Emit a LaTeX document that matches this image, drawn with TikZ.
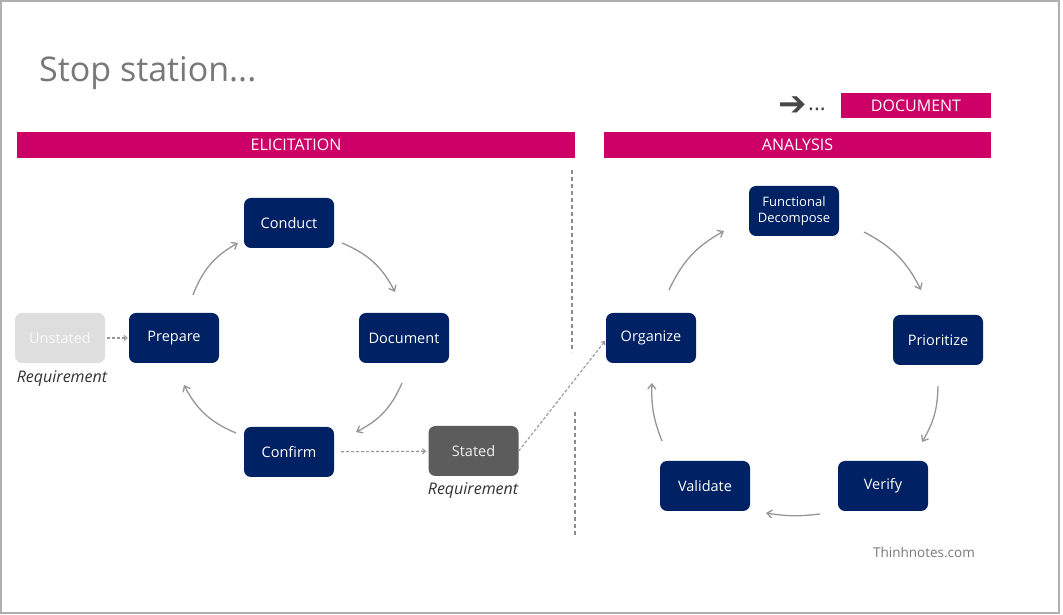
\documentclass[tikz,border=0pt]{standalone}
\usepackage{fontspec}
\setmainfont{Open Sans}
\newfontfamily\dejavu{DejaVu Sans}
\usetikzlibrary{arrows.meta}
\definecolor{navy}{RGB}{0,33,99}
\definecolor{mag}{RGB}{204,0,102}
\definecolor{framegray}{RGB}{175,175,175}
\definecolor{arrowgray}{RGB}{150,150,150}
\definecolor{titlegray}{RGB}{120,120,120}
\definecolor{unstatedgray}{RGB}{222,222,222}
\definecolor{statedgray}{RGB}{92,92,92}
\begin{document}
\begin{tikzpicture}[x=1pt,y=1pt,
  stepbox/.style={rounded corners=7pt, minimum width=90pt, minimum height=50pt, inner sep=0pt,
    fill=navy, text=white, font=\fontsize{14.5}{16}\selectfont},
  bar/.style={fill=mag, text=white, inner sep=0pt, minimum height=26pt, font=\fontsize{16}{18}\selectfont},
  req/.style={text=black!80, font=\fontsize{16}{18}\selectfont\itshape, inner sep=0pt},
  cyc/.style={draw=arrowgray, line width=1.3pt, -{Straight Barb[length=5pt,width=8pt,line width=1.3pt]}},
  dasharrow/.style={draw=arrowgray, line width=1.1pt, dash pattern=on 3pt off 2pt, -{Straight Barb[length=3pt,width=5pt]}},
  divider/.style={draw=black!45, line width=2pt, dash pattern=on 4pt off 3pt}
]
\useasboundingbox (0,0) rectangle (1063,615);
\fill[white] (0,0) rectangle (1063,615);
\draw[framegray, line width=1.5pt] (1,2) rectangle (1059,614);

% title
\node[anchor=base west, inner sep=0pt, text=titlegray, font=\fontsize{34}{40}\selectfont] (title) at (39,615-82) {Stop station...};

% bars
\node[bar, minimum width=558pt] (elic) at (296,615-145) {ELICITATION};
\node[bar, minimum width=387pt] (anal) at (797.5,615-145) {ANALYSIS};
\node[bar, minimum width=150pt, minimum height=25pt] (doc) at (916,615-105.5) {DOCUMENT};
\node[anchor=east, inner sep=0pt, text=black!72, font=\dejavu\bfseries\fontsize{34}{36}\selectfont] (arr) at (807,615-106) {➔};
\node[anchor=west, inner sep=0pt, text=black!72, font=\fontsize{22}{24}\selectfont] (dots) at (808,615-109) {...};

% dividers
\coordinate (d1) at (572,615-170);
\coordinate (d2) at (572,615-352);
\coordinate (d3) at (574.5,615-412);
\coordinate (d4) at (574.5,615-535);
\draw[divider] (d1) -- (d2);
\draw[divider] (d3) -- (d4);

% left cycle
\node[stepbox] (conduct) at (289,615-223) {Conduct};
\node[stepbox] (prepare) at (174,615-338) {Prepare};
\node[stepbox] (document) at (404,615-338) {Document};
\node[stepbox] (confirm) at (289,615-452) {Confirm};
\node[stepbox, fill=unstatedgray, text=white!96!gray] (unstated) at (60,615-338) {Unstated};
\node[stepbox, fill=statedgray, text=white!88!gray] (stated) at (473.5,615-451) {Stated};
\node[req] (req1) at (62,615-379) {Requirement};
\node[req] (req2) at (473,615-491) {Requirement};

% right cycle
\node[stepbox, font=\fontsize{13}{16}\selectfont, align=center] (func) at (794,615-211) {Functional\\Decompose};
\node[stepbox] (prior) at (938,615-340) {Prioritize};
\node[stepbox] (verify) at (883,615-486) {Verify};
\node[stepbox] (validate) at (705,615-486) {Validate};
\node[stepbox] (organize) at (651,615-338) {Organize};

\node[inner sep=0pt, text=titlegray, font=\fontsize{13.5}{15}\selectfont] (credit) at (924,615-552) {Thinhnotes.com};

% cycle arrow end points
\coordinate (a1) at (193,615-295); \coordinate (b1) at (238,615-243);
\coordinate (a2) at (342,615-243); \coordinate (b2) at (395,615-292);
\coordinate (a3) at (402,615-383); \coordinate (b3) at (356,615-432);
\coordinate (a4) at (236,615-433); \coordinate (b4) at (184,615-385);
\draw[cyc] (a1) to[bend left=20] (b1);
\draw[cyc] (a2) to[bend left=20] (b2);
\draw[cyc] (a3) to[bend left=20] (b3);
\draw[cyc] (a4) to[bend left=20] (b4);

\coordinate (a5) at (669,615-290); \coordinate (b5) at (724,615-231);
\coordinate (a6) at (864,615-232); \coordinate (b6) at (921,615-290);
\coordinate (a7) at (938,615-386); \coordinate (b7) at (922,615-442);
\coordinate (a8) at (820,615-514); \coordinate (b8) at (766,615-513);
\coordinate (a9) at (662,615-441); \coordinate (b9) at (652,615-383);
\draw[cyc] (a5) to[bend left=18] (b5);
\draw[cyc] (a6) to[bend left=18] (b6);
\draw[cyc] (a7) to[bend left=15] (b7);
\draw[cyc] (a8) to[bend left=8] (b8);
\draw[cyc] (a9) to[bend left=12] (b9);

% dashed flows
\draw[dasharrow, shorten >=1pt, shorten <=2pt] (unstated) -- (prepare);
\draw[dasharrow, shorten <=7pt, shorten >=2pt] (confirm) -- (stated);
\draw[dasharrow, shorten >=1pt] (stated.east) -- ([yshift=-2pt]organize.west);
\end{tikzpicture}
\end{document}
